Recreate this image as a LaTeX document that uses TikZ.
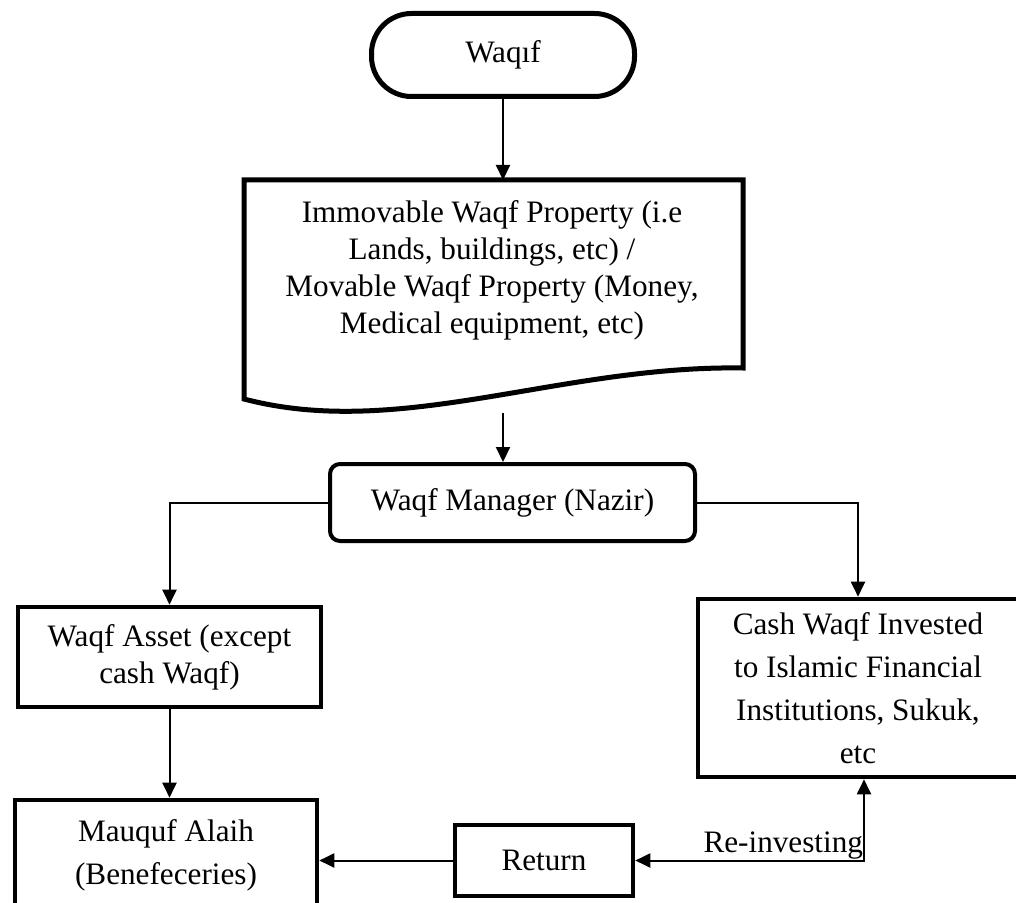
\documentclass[tikz,border=0pt]{standalone}
\usepackage{fontspec}
\setmainfont{Liberation Serif}
\usetikzlibrary{arrows.meta}
\begin{document}
\begin{tikzpicture}[x=0.5pt,y=-0.5pt,
    >={Triangle[length=7.5pt,width=7pt]},
    txt/.style={font=\fontsize{15.6}{18.5}\selectfont,align=center},
    wide/.style={font=\fontsize{15.6}{21.5}\selectfont,align=center},
    box/.style={draw,line width=2.3pt,inner sep=0pt},
    link/.style={line width=1pt}]
  \useasboundingbox (0,0) rectangle (1016,903);
  \node [box,txt,line width=2.5pt,rounded corners=20pt,minimum width=131.5pt,minimum height=41.5pt] (waqif) at (503,55) {Waqıf};
  \draw [line width=2.5pt] (244,399) -- (244,180) -- (743,180) -- (743,368) .. controls (560,365) and (400,440) .. cycle;
  \node [txt] (prop) at (492,270) {Immovable Waqf Property (i.e\\Lands, buildings, etc) /\\Movable Waqf Property (Money,\\Medical equipment, etc)};
  \coordinate (propin) at (503,180);
  \coordinate (propout) at (503,413);
  \node [box,txt,line width=2pt,rounded corners=5pt,minimum width=182.5pt,minimum height=38.5pt] (manager) at (512.5,502.5) {Waqf Manager (Nazir)};
  \node [box,txt,minimum width=151.5pt,minimum height=50pt] (asset) at (169.5,657) {Waqf Asset (except\\cash Waqf)};
  \node [box,wide,minimum width=160pt,minimum height=89pt] (cash) at (858,688) {Cash Waqf Invested\\to Islamic Financial\\Institutions, Sukuk,\\etc};
  \node [box,wide,minimum width=151pt,minimum height=55pt] (mauquf) at (166,855) {Mauquf Alaih\\(Benefeceries)};
  \node [box,txt,minimum width=89pt,minimum height=35.5pt] (return) at (544,860.5) {Return};
  \draw [link,->] (waqif.south) -- (propin);
  \draw [link,->] (propout) -- (propout |- manager.north);
  \draw [link,->] (manager.west) -| (asset.north);
  \draw [link,->] (manager.east) -| (cash.north);
  \draw [link,->] (asset.south) -- (asset.south |- mauquf.north);
  \draw [link,->] (return.west) -- (return.west -| mauquf.east);
  \draw [link,<->] (return.east) -| node [txt,pos=0.5,anchor=south east,inner sep=0pt] {Re-investing} ([xshift=3pt]cash.south);
\end{tikzpicture}
\end{document}
